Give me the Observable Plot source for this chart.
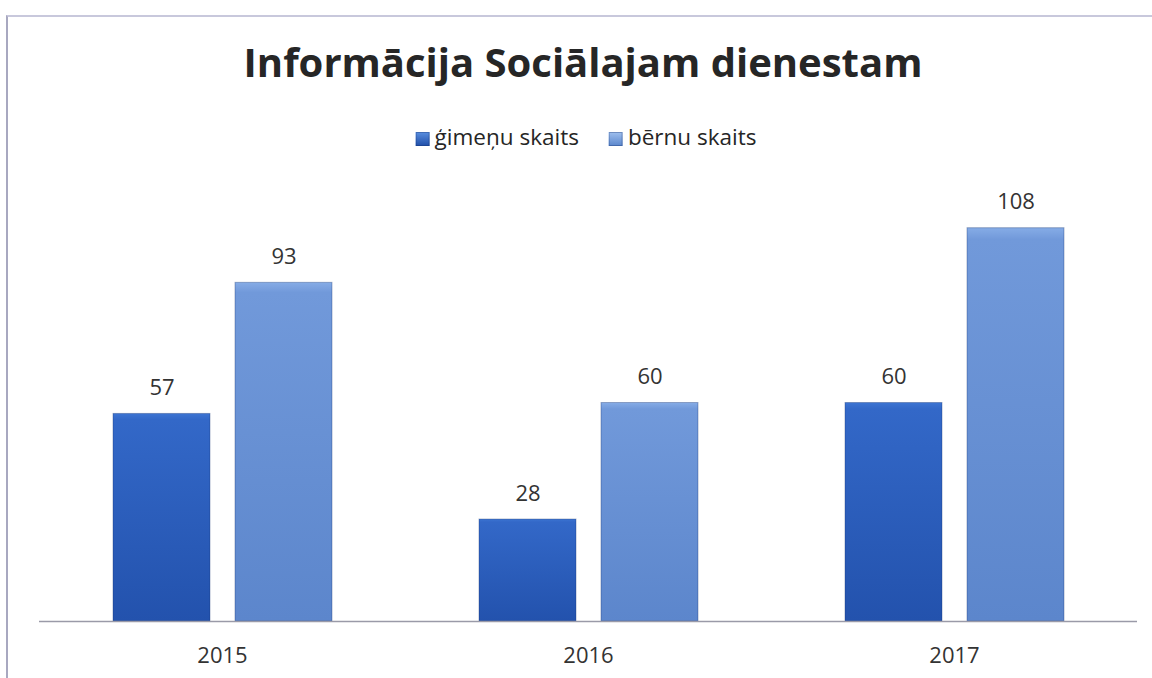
<!DOCTYPE html>
<html><head><meta charset="utf-8">
<script src="https://cdn.jsdelivr.net/npm/d3@7"></script>
<script src="https://cdn.jsdelivr.net/npm/@observablehq/plot@0.6"></script>
<style>
body{margin:0;background:#fff;}
#wrap{position:relative;width:1152px;height:678px;overflow:hidden;font-family:"Open Sans",sans-serif;color:#333;}
#frame{position:absolute;left:6px;top:15px;width:1160px;height:700px;border-left:2px solid #a8a8c0;border-top:2px solid #c8c8dc;box-sizing:border-box;}
#title{position:absolute;left:583px;top:36px;transform:translateX(-50%);white-space:nowrap;font-weight:700;font-size:40px;line-height:52px;color:#262626;}
#legend{position:absolute;left:586px;top:122px;transform:translateX(-50%);white-space:nowrap;font-size:22.5px;line-height:30px;color:#262626;}
#legend span.sw{display:inline-block;width:14px;height:14px;margin-right:5px;vertical-align:-1px;}
#legend span.item{display:inline-block;}
#legend span.item + span.item{margin-left:30px;}
#chart{position:absolute;left:0;top:0;}
</style></head>
<body>
<div id="wrap">
<div id="frame"></div>
<div id="chart"></div>
<div id="title">Informācija Sociālajam dienestam</div>
<div id="legend"></div>
</div>
<script>
const years = ["2015", "2016", "2017"];
const seriesNames = ["ģimeņu skaits", "bērnu skaits"];
const gimenuSkaits = [57, 28, 60];
const bernuSkaits = [93, 60, 108];

const data = [];
years.forEach((y, i) => {
  data.push({year: y, series: seriesNames[0], value: gimenuSkaits[i]});
  data.push({year: y, series: seriesNames[1], value: bernuSkaits[i]});
});

const legend = document.getElementById("legend");
seriesNames.forEach((s, i) => {
  const item = document.createElement("span");
  item.className = "item";
  const sw = document.createElement("span");
  sw.className = "sw";
  sw.style.background = `linear-gradient(${i === 0 ? "#5a8fe0,#1f4ea8" : "#a0c0ee,#5a86cc"})`;
  sw.style.boxShadow = "inset 0 0 0 1px rgba(20,50,110,0.35)";
  item.appendChild(sw);
  item.appendChild(document.createTextNode(s));
  legend.appendChild(item);
});

const plot = Plot.plot({
  width: 1152,
  height: 678,
  marginLeft: 38,
  marginRight: 15,
  marginTop: 184,
  marginBottom: 57,
  style: {fontFamily: "Open Sans, sans-serif", background: "transparent"},
  fx: {domain: years, padding: 0, label: null},
  x: {domain: seriesNames, paddingInner: 0.205, paddingOuter: 0.6025, axis: null},
  y: {domain: [0, 120], axis: null},
  color: {domain: seriesNames, range: ["url(#gDark)", "url(#gLight)"]},
  marks: [
    Plot.barY(data, {fx: "year", x: "series", y: "value", fill: "series", stroke: "rgba(20,50,110,0.35)", strokeWidth: 1}),
    Plot.text(data, {fx: "year", x: "series", y: "value", text: d => String(d.value), dy: -26, fontSize: 22, fill: "#333"}),
    Plot.ruleY([0], {stroke: "#9a9aa8", strokeWidth: 1.5}),
    Plot.axisFx({anchor: "bottom", tickSize: 0, tickPadding: 26, fontSize: 22, label: null, fill: "#333"})
  ]
});

// gradients for the bevelled bar look
const svgNS = "http://www.w3.org/2000/svg";
const defs = document.createElementNS(svgNS, "defs");
function grad(id, stops) {
  const g = document.createElementNS(svgNS, "linearGradient");
  g.setAttribute("id", id);
  g.setAttribute("x1", "0"); g.setAttribute("y1", "0");
  g.setAttribute("x2", "0"); g.setAttribute("y2", "1");
  stops.forEach(([o, c]) => {
    const s = document.createElementNS(svgNS, "stop");
    s.setAttribute("offset", o); s.setAttribute("stop-color", c);
    g.appendChild(s);
  });
  defs.appendChild(g);
}
grad("gDark", [["0", "#3c74d2"], ["0.03", "#3368c8"], ["1", "#2352ad"]]);
grad("gLight", [["0", "#86ace6"], ["0.03", "#7199da"], ["1", "#5c86cc"]]);
plot.insertBefore(defs, plot.firstChild);

document.getElementById("chart").appendChild(plot);
</script>
</body></html>
